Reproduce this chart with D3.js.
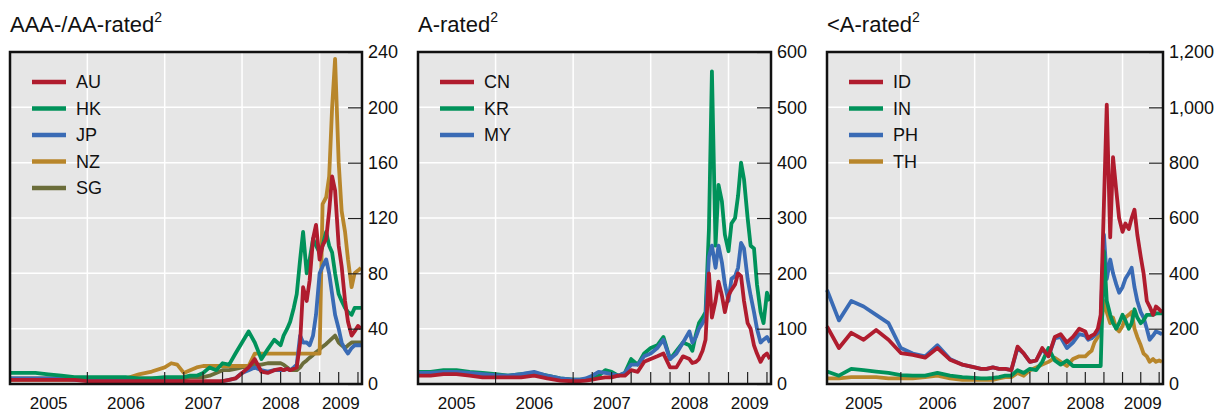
<!DOCTYPE html>
<html>
<head>
<meta charset="UTF-8">
<script src="https://d3js.org/d3.v7.min.js"></script>
<style>
  body { margin: 0; background: #fff; }
  text { font-family: Arial, "Liberation Sans", sans-serif; fill: #111; }
</style>
</head>
<body>
<svg width="1224" height="414"></svg>
<script>
// dates: bi-monthly 2005-06, monthly 2007-mid 2008, semi-monthly afterwards
const dates = [
  '2005-01-01','2005-03-01','2005-05-01','2005-07-01','2005-09-01','2005-11-01',
  '2006-01-01','2006-03-01','2006-05-01','2006-07-01','2006-09-01','2006-11-01',
  '2007-01-01','2007-02-01','2007-03-01','2007-04-01','2007-05-01','2007-06-01',
  '2007-07-01','2007-08-01','2007-09-01','2007-10-01','2007-11-01','2007-12-01',
  '2008-01-01','2008-02-01','2008-03-01','2008-04-01','2008-05-01','2008-06-01',
  '2008-07-01','2008-07-15','2008-08-01','2008-08-15','2008-09-01','2008-09-15',
  '2008-10-01','2008-10-15','2008-11-01','2008-11-15','2008-12-01','2008-12-15',
  '2009-01-01','2009-01-15','2009-02-01','2009-02-15','2009-03-01','2009-03-15',
  '2009-04-01','2009-04-15','2009-05-01','2009-05-15','2009-06-01','2009-06-15',
  '2009-07-01','2009-07-15'
];

// AAA-/AA-rated
const AU = [3,3,3,3,3,3, 2,2,2,2,2,2, 2,2,2,2,2,2,2,2,2,2,3,4, 8,12,18,9,8,10,
  11,10,11,10,11,12,30,70,60,75,105,115,90,100,105,125,150,140,100,85,60,45,35,38,42,40];
const HK = [8,8,8,7,6,5, 5,5,5,5,4,4, 5,5,5,5,6,6,8,12,10,15,14,22, 30,38,30,18,25,32,
  28,35,40,45,55,65,90,110,80,90,105,100,95,100,110,100,95,80,65,60,55,52,50,55,55,55];
const JP = [4,4,4,4,4,3, 3,3,3,3,3,2, 2,2,2,1,1,1,1,1,1,2,3,4, 8,10,12,10,9,10,
  10,10,11,10,12,14,35,30,30,28,35,50,80,85,90,80,65,50,40,30,25,22,26,28,28,28];
const NZ = [3,3,3,3,3,3, 3,3,3,4,7,9, 12,15,14,8,10,12,13,13,13,13,13,13, 13,13,22,22,22,22,
  22,22,22,22,22,22,22,22,22,22,22,22,22,130,135,150,200,235,160,125,110,90,70,80,82,84];
const SG = [4,4,4,4,4,4, 4,4,4,4,4,4, 4,4,4,4,5,5,5,6,8,10,10,11, 12,13,14,14,15,15,
  15,14,12,10,10,10,12,15,17,19,21,23,25,27,29,31,33,35,30,28,26,28,30,30,30,30];

// A-rated
const CN = [15,15,18,18,15,12, 12,12,12,15,10,6, 5,5,6,8,10,12,12,15,15,25,22,40, 45,50,55,30,30,50,
  45,38,40,45,60,80,200,120,150,185,160,130,160,170,180,200,195,150,110,100,70,55,40,50,55,45];
const KR = [22,22,25,25,22,20, 18,15,18,20,15,10, 8,8,8,10,15,25,22,15,20,45,35,55, 65,70,85,45,60,75,
  70,60,90,110,120,130,280,565,250,360,330,270,240,290,300,340,400,370,300,250,245,180,130,110,165,150];
const MY = [20,20,22,22,20,18, 16,15,18,22,15,10, 8,8,10,15,22,20,18,15,20,35,35,50, 55,65,80,45,55,75,
  95,75,85,100,110,120,230,250,210,250,220,180,150,190,195,210,255,245,190,160,130,100,75,80,85,75];

// <A-rated
const ID = [208,130,185,160,195,160, 112,105,95,130,88,70, 60,55,55,60,55,55,50,135,110,80,85,130, 100,170,180,150,170,200,
  190,165,175,180,200,250,650,1010,530,820,700,600,550,580,560,600,630,540,460,400,300,280,250,280,270,260];
const IN = [45,30,55,50,45,40, 32,30,30,40,30,25, 22,20,20,22,25,30,30,50,40,55,50,80, 130,85,70,85,65,65,
  65,65,65,65,65,65,480,300,250,220,200,220,250,230,200,220,270,240,220,230,250,250,250,255,255,255];
const PH = [340,230,300,280,250,220, 130,110,100,140,90,70, 60,55,55,60,55,55,50,130,110,80,85,125, 100,165,170,130,150,180,
  175,160,165,175,185,230,540,380,450,400,360,330,350,380,400,420,350,300,260,240,200,160,175,190,185,180];
const TH = [20,20,25,25,25,20, 20,20,25,30,20,15, 15,15,15,15,20,25,25,40,30,50,60,70, 80,95,80,65,90,100,
  100,110,120,150,170,200,300,260,220,240,200,190,210,240,250,260,200,170,140,110,100,80,90,80,85,80];

const yearLabels = ['2005','2006','2007','2008','2009'];

const RED = '#b01c2e', GREEN = '#00925a', BLUE = '#3a6bb5', GOLD = '#b8862b', OLIVE = '#6b6d3a';

const panels = [
  { title: 'AAA-/AA-rated', x0: 10, x1: 362, max: 240, step: 40,
    series: [['AU', AU, RED], ['HK', HK, GREEN], ['JP', JP, BLUE], ['NZ', NZ, GOLD], ['SG', SG, OLIVE]],
    order: ['SG', 'NZ', 'JP', 'HK', 'AU'] },
  { title: 'A-rated', x0: 418, x1: 771, max: 600, step: 100,
    series: [['CN', CN, RED], ['KR', KR, GREEN], ['MY', MY, BLUE]],
    order: ['KR', 'MY', 'CN'] },
  { title: '<A-rated', x0: 827, x1: 1163, max: 1200, step: 200,
    series: [['ID', ID, RED], ['IN', IN, GREEN], ['PH', PH, BLUE], ['TH', TH, GOLD]],
    order: ['TH', 'PH', 'IN', 'ID'] }
];

const svg = d3.select('svg');
const plotTop = 52, plotBottom = 384;
const parse = d3.timeParse('%Y-%m-%d');
const times = dates.map(parse);
const fmt = d3.format(',');

panels.forEach(p => {
  const x = d3.scaleTime().domain([new Date(2005, 0, 1), new Date(2009, 6, 20)]).range([p.x0, p.x1]);
  const y = d3.scaleLinear().domain([0, p.max]).range([plotBottom, plotTop]);
  const g = svg.append('g');

  // title
  const t = g.append('text').attr('x', p.x0).attr('y', 32).attr('font-size', 22).text(p.title);
  t.append('tspan').attr('font-size', 14).attr('dy', -10).text('2');

  g.append('rect').attr('x', p.x0).attr('y', plotTop).attr('width', p.x1 - p.x0).attr('height', plotBottom - plotTop)
    .attr('fill', '#e6e6e6');

  const yTicks = d3.range(0, p.max + 1, p.step);
  const yearTicks = [2006, 2007, 2008, 2009].map(v => new Date(v, 0, 1));

  // grid
  g.selectAll('.hg').data(yTicks.slice(1, -1)).enter().append('line')
    .attr('x1', p.x0).attr('x2', p.x1).attr('y1', d => y(d)).attr('y2', d => y(d))
    .attr('stroke', '#fff').attr('stroke-width', 1.5);
  g.selectAll('.vg').data(yearTicks).enter().append('line')
    .attr('x1', d => x(d)).attr('x2', d => x(d)).attr('y1', plotTop).attr('y2', plotBottom)
    .attr('stroke', '#fff').attr('stroke-width', 1.5);

  // lines
  const line = d3.line().x((d, i) => x(times[i])).y(d => y(d));
  const byName = Object.fromEntries(p.series.map(s => [s[0], s]));
  p.order.forEach(n => {
    const s = byName[n];
    g.append('path').datum(s[1]).attr('d', line).attr('fill', 'none')
      .attr('stroke', s[2]).attr('stroke-width', 3.8).attr('stroke-linejoin', 'round');
  });

  // bottom ticks: years, then quarters from 2007
  const qTicks = yearTicks.concat(d3.timeMonth.every(3).range(new Date(2007, 3, 1), new Date(2009, 6, 2))
    .filter(d => d.getMonth() !== 0));
  g.selectAll('.bt').data(qTicks).enter().append('line')
    .attr('x1', d => x(d)).attr('x2', d => x(d)).attr('y1', plotBottom).attr('y2', plotBottom - 12)
    .attr('stroke', '#222').attr('stroke-width', 1.2);

  // right axis
  const ax = d3.axisRight(y).tickValues(yTicks).tickSize(-14).tickPadding(6).tickFormat(fmt);
  const a = g.append('g').attr('transform', `translate(${p.x1},0)`).call(ax);
  a.select('.domain').remove();
  a.selectAll('line').attr('stroke', '#222').attr('stroke-width', 1.2);
  a.selectAll('text').attr('font-size', 18).attr('font-family', 'Arial, "Liberation Sans", sans-serif')
    .attr('fill', '#111');

  // frame
  g.append('rect').attr('x', p.x0).attr('y', plotTop).attr('width', p.x1 - p.x0).attr('height', plotBottom - plotTop)
    .attr('fill', 'none').attr('stroke', '#111').attr('stroke-width', 2.5);

  // year labels, centred in each year span
  g.selectAll('.yl').data(yearLabels).enter().append('text')
    .attr('x', d => {
      const a0 = x(new Date(+d, 0, 1)), a1 = Math.min(x(new Date(+d + 1, 0, 1)), p.x1);
      return (a0 + a1) / 2;
    })
    .attr('y', 409).attr('text-anchor', 'middle').attr('font-size', 17).text(d => d);

  // legend
  p.series.forEach((s, i) => {
    const ly = 82 + i * 26.5;
    g.append('line').attr('x1', p.x0 + 22).attr('x2', p.x0 + 56).attr('y1', ly).attr('y2', ly)
      .attr('stroke', s[2]).attr('stroke-width', 4.5);
    g.append('text').attr('x', p.x0 + 66).attr('y', ly + 6).attr('font-size', 18).text(s[0]);
  });
});
</script>
</body>
</html>
